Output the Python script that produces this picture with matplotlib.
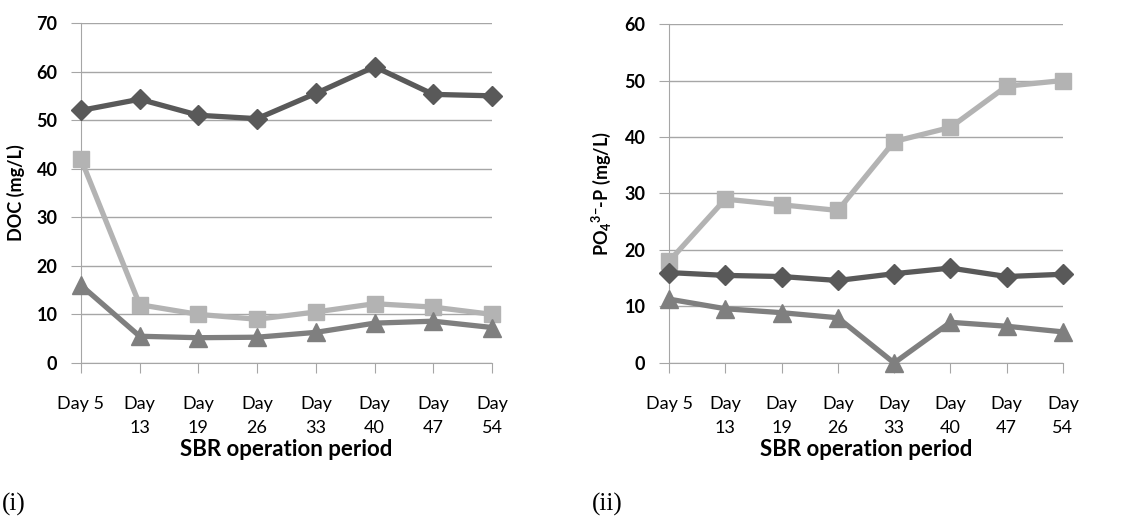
import numpy as np
import matplotlib.pyplot as plt

plt.rcParams['font.family'] = ['Lato', 'DejaVu Sans']
plt.rcParams['mathtext.default'] = 'regular'

days = ["Day 5", "Day\n13", "Day\n19", "Day\n26", "Day\n33", "Day\n40", "Day\n47", "Day\n54"]

# panel (i) DOC
doc_diamond = [52, 54.3, 51, 50.3, 55.5, 61, 55.3, 55]
doc_square = [42, 12, 10, 9, 10.5, 12.2, 11.5, 10]
doc_triangle = [16, 5.5, 5.2, 5.3, 6.3, 8.2, 8.6, 7.3]

# panel (ii) PO4-P
po4_diamond = [16, 15.5, 15.3, 14.6, 15.8, 16.8, 15.3, 15.7]
po4_square = [18, 29, 28, 27, 39.2, 41.7, 49, 50]
po4_triangle = [11.3, 9.6, 8.9, 8, 0, 7.2, 6.5, 5.5]

c_dia = '#595959'
c_sq = '#b3b3b3'
c_tri = '#7f7f7f'
grid_c = '#a6a6a6'

fig = plt.figure(figsize=(11.29, 5.2), dpi=100)
ax1 = fig.add_axes([0.0717, 0.302, 0.3641, 0.6538])
ax2 = fig.add_axes([0.5926, 0.302, 0.3489, 0.6518])

def panel(ax, dia, sq, tri, ymax, ylabel):
    x = np.arange(len(days))
    ax.plot(x, sq, color=c_sq, lw=3.8, marker='s', ms=12, zorder=3, clip_on=False)
    ax.plot(x, dia, color=c_dia, lw=3.8, marker='D', ms=10.5, zorder=4, clip_on=False)
    ax.plot(x, tri, color=c_tri, lw=3.8, marker='^', ms=13, zorder=5, clip_on=False)
    ax.set_xlim(0, len(days) - 1)
    ax.set_ylim(0, ymax)
    ax.set_yticks(np.arange(0, ymax + 1, 10))
    ax.set_xticks(x)
    ax.set_xticklabels(days, fontsize=13, linespacing=1.6, va='top')
    ax.yaxis.grid(True, color=grid_c, lw=1)
    ax.set_axisbelow(True)
    for s in ['top', 'right']:
        ax.spines[s].set_visible(False)
    for s in ['left', 'bottom']:
        ax.spines[s].set_color(grid_c)
    ax.tick_params(axis='x', direction='out', length=7, color=grid_c, pad=17)
    ax.tick_params(axis='y', direction='out', length=7, color=grid_c, pad=10)
    for t in ax.get_yticklabels():
        t.set_fontsize(13)
        t.set_fontweight('bold')
    ax.set_xlabel("SBR operation period", fontsize=16, fontweight='bold', labelpad=2)
    ax.set_ylabel(ylabel, fontsize=13, fontweight='bold', labelpad=8)

panel(ax1, doc_diamond, doc_square, doc_triangle, 70, "DOC (mg/L)")
panel(ax2, po4_diamond, po4_square, po4_triangle, 60, r"PO$_4$$^{3{-}}$-P (mg/L)")

fig.text(0.002, 0.018, "(i)", fontsize=18, family='Liberation Serif')
fig.text(0.524, 0.018, "(ii)", fontsize=18, family='Liberation Serif')

fig.savefig("out.png", dpi=100)
